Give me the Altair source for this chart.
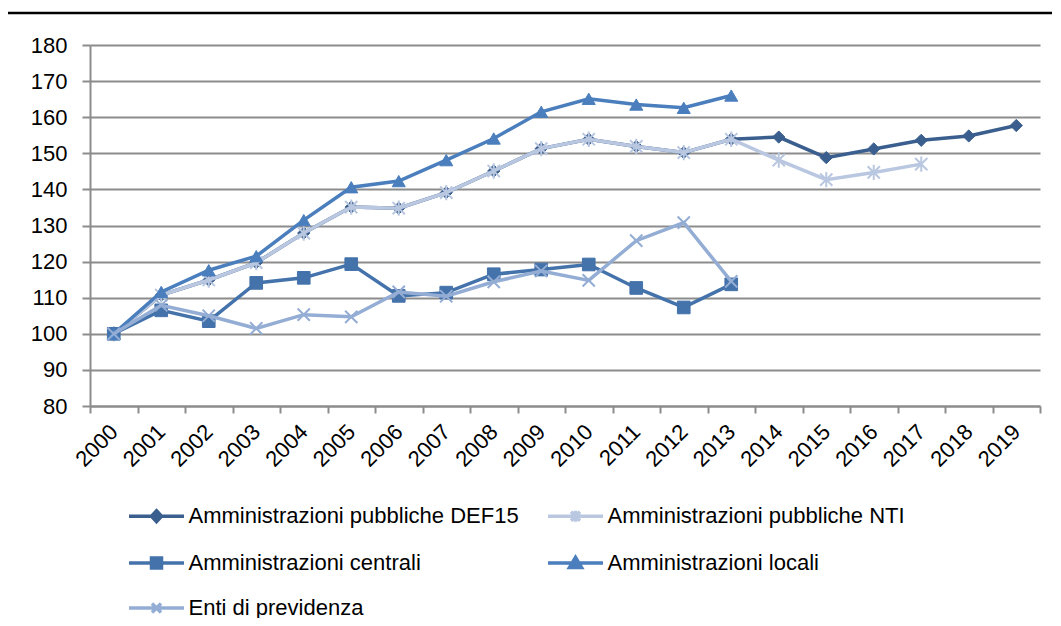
import altair as alt
import pandas as pd

years = [str(y) for y in range(2000, 2020)]
y_ticks = [80, 90, 100, 110, 120, 130, 140, 150, 160, 170, 180]

series_names = [
    "Amministrazioni pubbliche DEF15",
    "Amministrazioni pubbliche NTI",
    "Amministrazioni centrali",
    "Amministrazioni locali",
    "Enti di previdenza",
]

def15 = [100, 110.7, 114.9, 119.7, 127.9, 135.1, 134.8, 139.1, 145.1, 151.3,
         153.9, 151.9, 150.2, 153.9, 154.5, 148.8, 151.2, 153.6, 154.8, 157.7]
nti = [100, 110.7, 114.9, 119.7, 127.9, 135.1, 134.8, 139.1, 145.1, 151.3,
       153.9, 151.9, 150.2, 153.9, 148.1, 142.7, 144.7, 147.0]
centrali = [100, 106.5, 103.5, 114.1, 115.5, 119.3, 110.5, 111.4, 116.5, 117.8,
            119.2, 112.7, 107.3, 113.7]
locali = [100, 111.6, 117.6, 121.5, 131.5, 140.6, 142.3, 148.1, 154.1, 161.5,
          165.1, 163.5, 162.6, 166.0]
enti = [100, 107.9, 105.0, 101.5, 105.3, 104.7, 111.6, 110.4, 114.4, 117.4,
        114.8, 125.8, 130.8, 114.5]

series_values = [def15, nti, centrali, locali, enti]

# styles
colors = ["#3A5F8E", "#B9C7E0", "#4472AA", "#4A7EBD", "#94ADD4"]
X_PATH = "M-1,-1L1,1M-1,1L1,-1"
AST_PATH = "M-1,-1L1,1M-1,1L1,-1M0,-1.25V1.25"
point_shapes = ["diamond", AST_PATH, "square", "triangle-up", X_PATH]
point_sizes = [150, 150, 160, 170, 150]
point_filled = [True, False, True, True, False]

legend_shapes = [
    "M-5.5,0H5.5M0,-1.1L1,0L0,1.1L-1,0Z",
    "M-5.5,0H5.5M-0.9,-0.9L0.9,0.9M-0.9,0.9L0.9,-0.9M0,-1.1V1.1",
    "M-5.5,0H5.5M-1,-1H1V1H-1Z",
    "M-5.5,0H5.5M0,-1.1L1.2,0.9H-1.2Z",
    "M-5.5,0H5.5M-0.9,-0.9L0.9,0.9M-0.9,0.9L0.9,-0.9",
]

rows = []
for name, vals in zip(series_names, series_values):
    for yr, v in zip(years, vals):
        rows.append({"year": yr, "value": v, "series": name})
df = pd.DataFrame(rows)

FONT = "Liberation Sans"
GRAY = "#8C8C8C"

x_enc = alt.X(
    "year:O",
    scale=alt.Scale(type="band", domain=years, paddingInner=0, paddingOuter=0),
    axis=alt.Axis(
        title=None, labelAngle=-45, labelAlign="right", labelBaseline="middle",
        labelFontSize=22, labelFont=FONT, labelColor="black", labelPadding=15,
        tickBand="extent", tickSize=7, tickColor=GRAY, tickWidth=2,
        domainColor=GRAY, domainWidth=2, grid=False,
    ),
)
y_enc = alt.Y(
    "value:Q",
    scale=alt.Scale(domain=[80, 180], nice=False, zero=False),
    axis=alt.Axis(
        title=None, values=y_ticks, labelFontSize=22, labelFont=FONT,
        labelColor="black", labelPadding=15, tickSize=8, tickColor=GRAY,
        tickWidth=2, domainColor=GRAY, domainWidth=2, grid=True,
        gridColor=GRAY, gridWidth=2,
    ),
)

layers = []
for i, name in enumerate(series_names):
    base = alt.Chart(df).transform_filter(alt.datum.series == name)
    line = base.mark_line(color=colors[i], strokeWidth=3.5).encode(x=x_enc, y=y_enc)
    if point_filled[i]:
        pt = base.mark_point(shape=point_shapes[i], size=point_sizes[i], filled=True,
                             fill=colors[i], stroke=colors[i], strokeWidth=1, opacity=1)
    else:
        pt = base.mark_point(shape=point_shapes[i], size=point_sizes[i], filled=False,
                             stroke=colors[i], strokeWidth=2, opacity=1)
    pt = pt.encode(x=x_enc, y=y_enc)
    layers += [line, pt]

leg = alt.Legend(
    title=None, orient="none", legendX=39.5, legendY=460, columns=2,
    direction="horizontal",
    columnPadding=21, rowPadding=21, symbolSize=100, symbolOffset=16,
    labelOffset=21, labelFontSize=22, labelFont=FONT, labelColor="black",
    symbolStrokeWidth=3.5, padding=0, labelLimit=0,
)
color_scale = alt.Scale(domain=series_names, range=colors)
shape_scale = alt.Scale(domain=series_names, range=legend_shapes)

legend_layer = alt.Chart(df).transform_filter("false").mark_point(
    filled=True, strokeWidth=3.5, opacity=1
).encode(
    fill=alt.Fill("series:N", scale=color_scale, legend=leg),
    stroke=alt.Stroke("series:N", scale=color_scale, legend=leg),
    shape=alt.Shape("series:N", scale=shape_scale, legend=leg),
)

top_rule = alt.Chart(pd.DataFrame({"k": [0]})).mark_rule(
    color="black", strokeWidth=2.5
).encode(x=alt.value(-90), x2=alt.value(980), y=alt.value(-32))

chart = alt.layer(*layers, legend_layer, top_rule).properties(
    width=950, height=361, autosize="none",
    padding={"left": 82, "top": 37, "right": 12, "bottom": 212},
).configure_view(stroke=None)

chart.save("out.html", embed_options={"renderer": "svg", "actions": False})
